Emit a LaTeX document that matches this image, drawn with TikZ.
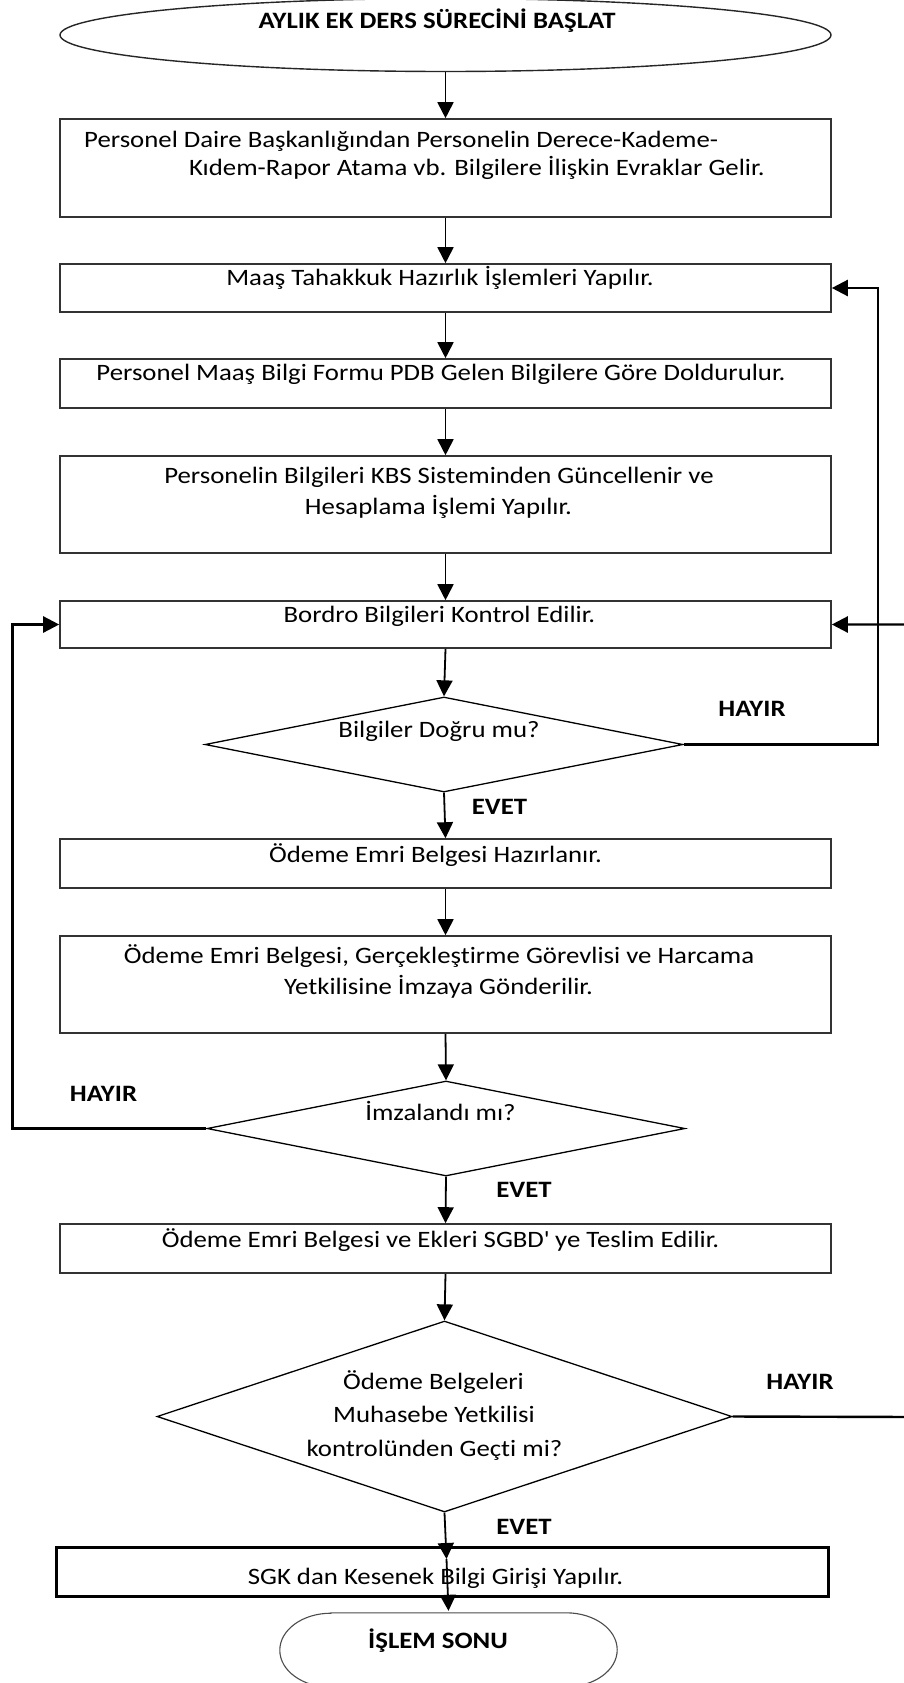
\documentclass[tikz,border=0pt]{standalone}
\usepackage{fontspec}
\setmainfont{Carlito}[FakeStretch=1.14, Ligatures={NoCommon}, Contextuals={NoAlternate}]
\usetikzlibrary{arrows.meta,shapes.geometric,shapes.misc}
\newcommand{\flowfont}{\fontsize{23.5}{28}\selectfont}
\begin{document}
\begin{tikzpicture}[x=1pt,y=-1pt,
  stepbox/.style={rectangle, draw=black!80, line width=1.6pt, inner sep=0pt, minimum width=771pt},
  lastbox/.style={rectangle, draw=black, line width=3pt, inner sep=0pt, minimum width=772pt, minimum height=49pt},
  decide/.style={diamond, draw=black, line width=1.3pt, inner sep=0pt},
  txt/.style={inner sep=0pt, anchor=base, font=\flowfont},
  txtw/.style={inner sep=0pt, anchor=base west, font=\flowfont},
  btxt/.style={inner sep=0pt, anchor=base, font=\flowfont\bfseries},
  tip/.style={-{Triangle[length=16pt,width=16pt]}},
  flow/.style={draw=black, line width=1.8pt, tip},
  back/.style={draw=black, line width=2.4pt, tip},
]
\useasboundingbox (0,0) rectangle (904,1683);
\fill[white] (0,0) rectangle (904,1683);

% start terminator
\node[ellipse, draw=black!85, line width=1.4pt, inner sep=0pt,
      minimum width=771pt, minimum height=73pt] (start) at (445.5,35) {};
\node[btxt] (tstart) at (437,29) {AYLIK EK DERS SÜRECİNİ BAŞLAT};

% process boxes
\node[stepbox, minimum height=98pt] (b1) at (445.5,168) {};
\node[txtw] (t1a) at (84,147) {Personel Daire Başkanlığından Personelin Derece-Kademe-};
\node[txtw] (t1b) at (189,175) {Kıdem-Rapor Atama vb. Bilgilere İlişkin Evraklar Gelir.};

\node[stepbox, minimum height=48pt] (b2) at (445.5,288) {};
\node[txt] (t2) at (440,285) {Maaş Tahakkuk Hazırlık İşlemleri Yapılır.};

\node[stepbox, minimum height=49pt] (b3) at (445.5,383.5) {};
\node[txt] (t3) at (441,380) {Personel Maaş Bilgi Formu PDB Gelen Bilgilere Göre Doldurulur.};

\node[stepbox, minimum height=97pt] (b4) at (445.5,504.5) {};
\node[txt] (t4a) at (439,483) {Personelin Bilgileri KBS Sisteminden Güncellenir ve};
\node[txt] (t4b) at (438.5,514) {Hesaplama İşlemi Yapılır.};

\node[stepbox, minimum height=47pt] (b5) at (445.5,624.5) {};
\node[txt] (t5) at (439.5,622) {Bordro Bilgileri Kontrol Edilir.};

\node[decide, minimum width=478pt, minimum height=95pt] (d1) at (444,744.5) {};
\node[txt] (td1) at (439,737) {Bilgiler Doğru mu?};

\node[stepbox, minimum height=49pt] (b6) at (445.5,863.5) {};
\node[txt] (t6) at (435.5,862) {Ödeme Emri Belgesi Hazırlanır.};

\node[stepbox, minimum height=97pt] (b7) at (445.5,984.5) {};
\node[txt] (t7a) at (439,963) {Ödeme Emri Belgesi, Gerçekleştirme Görevlisi ve Harcama};
\node[txt] (t7b) at (438.5,994) {Yetkilisine İmzaya Gönderilir.};

\node[decide, minimum width=478pt, minimum height=95pt] (d2) at (446,1128.5) {};
\node[txt] (td2) at (440.5,1120) {İmzalandı mı?};

\node[stepbox, minimum height=49pt] (b8) at (445.5,1248.5) {};
\node[txt] (t8) at (440.5,1247) {Ödeme Emri Belgesi ve Ekleri SGBD\textquotesingle{} ye Teslim Edilir.};

\node[decide, minimum width=575pt, minimum height=191pt] (d3) at (444.5,1416.5) {};
\node[txt] (td3a) at (433.5,1389) {Ödeme Belgeleri};
\node[txt] (td3b) at (434,1422) {Muhasebe Yetkilisi};
\node[txt] (td3c) at (434.5,1456) {kontrolünden Geçti mi?};

\node[lastbox] (b9) at (442.5,1571.5) {};
\node[txt] (t9) at (435.5,1584) {SGK dan Kesenek Bilgi Girişi Yapılır.};

% end terminator: flat top and bottom, elliptic ends
\node[rectangle, inner sep=0pt, minimum width=337pt, minimum height=74pt] (end) at (448.5,1650) {};
\draw[draw=black!70, line width=1.1pt]
  ([xshift=51pt]end.north west) -- ([xshift=-51pt]end.north east)
  arc[start angle=90, end angle=-90, x radius=51pt, y radius=37pt]
  -- ([xshift=51pt]end.south west)
  arc[start angle=270, end angle=90, x radius=51pt, y radius=37pt] -- cycle;
\node[btxt] (tend) at (438,1648) {İŞLEM SONU};

% decision labels
\node[btxt] (h1) at (752,716) {HAYIR};
\node[btxt] (e1) at (499.5,814) {EVET};
\node[btxt] (h2) at (103.5,1101) {HAYIR};
\node[btxt] (e2) at (524,1197) {EVET};
\node[btxt] (h3) at (800,1389) {HAYIR};
\node[btxt] (e3) at (524,1534) {EVET};

% main flow
\draw[flow] (start.south) -- (b1.north);
\draw[flow] (b1.south) -- (b2.north);
\draw[flow] (b2.south) -- (b3.north);
\draw[flow] (b3.south) -- (b4.north);
\draw[flow] (b4.south) -- (b5.north);
\draw[flow] (b5.south) -- (d1.north);
\draw[flow] (d1.south) -- (b6.north);
\draw[flow] (b6.south) -- (b7.north);
\draw[flow] (b7.south) -- (d2.north);
\draw[flow] (d2.south) -- (b8.north);
\draw[flow] (b8.south) -- (d3.north);
\coordinate (m9) at (446.5,1559);
\draw[flow] (d3.south) -- (m9);
\draw[flow] (m9) -- ([yshift=2pt]end.north);

% return paths
\coordinate (r1) at (878,744.5);
\draw[back] (d1.east) -- (r1) |- (b2.east);
\coordinate (r2) at (12.5,1128.5);
\draw[back] (d2.west) -- (r2) |- (b5.west);
\coordinate (r3) at (918,1417);
\draw[back] (d3.east) -- (r3) |- (b5.east);
\end{tikzpicture}
\end{document}
